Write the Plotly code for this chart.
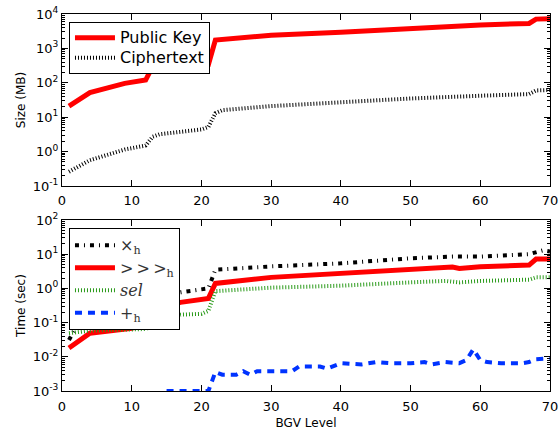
import plotly.graph_objects as go

# ---- data ----
pk_level = [1, 4, 9, 12, 13, 21, 22, 30, 40, 50, 60, 67, 68, 70]
pk_size = [21, 52, 96, 120, 300, 340, 1750, 2400, 2950, 3900, 4800, 5300, 7100, 7300]

ct_level = [1, 4, 9, 12, 13, 14, 20, 21, 22, 23, 30, 40, 50, 60, 67, 68, 70]
ct_size = [0.26, 0.56, 1.15, 1.5, 2.7, 3.2, 4.4, 5.2, 13, 16, 21, 28, 35, 42, 47, 60, 62]

mul_level = [1, 2, 3, 17, 20, 21, 22, 30, 40, 50, 56, 60, 67, 69, 70]
mul_time = [0.031, 0.068, 0.17, 0.77, 0.9, 1.0, 3.5, 4.4, 5.4, 7.6, 8.5, 8.5, 10, 13, 12]

rot_level = [1, 4, 10, 12, 13, 17, 21, 22, 30, 40, 50, 56, 57, 60, 67, 68, 70]
rot_time = [0.018, 0.049, 0.068, 0.09, 0.25, 0.39, 0.51, 1.4, 2.1, 2.7, 3.6, 4.2, 3.8, 4.3, 4.8, 7.2, 7.2]

sel_level = [1, 4, 10, 12, 17, 20, 21, 22, 30, 40, 50, 55, 57, 60, 67, 68, 70]
sel_time = [0.049, 0.058, 0.063, 0.065, 0.17, 0.18, 0.22, 0.83, 1.05, 1.2, 1.5, 1.65, 1.5, 1.65, 1.8, 2.1, 2.1]

add_level = [15, 21, 22, 23, 25, 26, 27, 28, 33, 34, 37, 38, 40, 42, 43, 45, 47, 50, 52, 53, 55, 57, 58, 59, 60, 61, 63, 66, 67, 68, 70]
add_time = [0.001, 0.001, 0.0036, 0.003, 0.003, 0.0038, 0.003, 0.0038, 0.0038, 0.0052, 0.0052, 0.0045, 0.0065, 0.006, 0.006, 0.007, 0.0065, 0.0065, 0.007, 0.006, 0.007, 0.0065, 0.008, 0.0165, 0.008, 0.007, 0.0065, 0.0065, 0.007, 0.0085, 0.009]

x_ticks = [0, 10, 20, 30, 40, 50, 60, 70]
size_exps = [-1, 0, 1, 2, 3, 4]
time_exps = [-3, -2, -1, 0, 1, 2]

FONT = "DejaVu Sans"
MATH = "DejaVu Serif"


def log_ticks(exps):
    vals = [10.0 ** e for e in exps]
    text = ["10<sup>%d</sup>" % e for e in exps]
    minor = [m * 10.0 ** e for e in exps[:-1] for m in range(2, 10)]
    return vals, text, minor


def big(s):
    return '<span style="font-size:16px">' + s + '</span>'


s_vals, s_text, s_minor = log_ticks(size_exps)
t_vals, t_text, t_minor = log_ticks(time_exps)

fig = go.Figure()
fig.add_trace(go.Scatter(x=pk_level, y=pk_size, mode="lines", name=big("Public Key"),
                         line=dict(color="#ff0000", width=5), xaxis="x", yaxis="y", legend="legend"))
fig.add_trace(go.Scatter(x=ct_level, y=ct_size, mode="lines", name=big("Ciphertext"),
                         line=dict(color="black", width=4, dash="1px,2px"), xaxis="x", yaxis="y", legend="legend"))

fig.add_trace(go.Scatter(x=mul_level, y=mul_time, mode="lines", name=big("×<sub>h</sub>"),
                         line=dict(color="black", width=4, dash="4px,5px,1px,5px"), xaxis="x2", yaxis="y2", legend="legend2"))
fig.add_trace(go.Scatter(x=rot_level, y=rot_time, mode="lines", name=big("&gt;&#8201;&gt;&#8201;&gt;<sub>h</sub>"),
                         line=dict(color="#ff0000", width=5), xaxis="x2", yaxis="y2", legend="legend2"))
fig.add_trace(go.Scatter(x=sel_level, y=sel_time, mode="lines", name=big("<i>sel</i>"),
                         line=dict(color="#2a9a1a", width=4, dash="1px,2px"), xaxis="x2", yaxis="y2", legend="legend2"))
fig.add_trace(go.Scatter(x=add_level, y=add_time, mode="lines", name=big("+<sub>h</sub>"),
                         line=dict(color="#0033ff", width=4, dash="7px,6px"), xaxis="x2", yaxis="y2", legend="legend2"))

axis_common = dict(showline=True, linecolor="black", linewidth=1, mirror="ticks", automargin=False,
                   ticks="inside", ticklen=6, tickcolor="black", showgrid=False, zeroline=False,
                   ticklabeloverflow="allow",
                   tickfont=dict(family=FONT, size=13, color="black"))

fig.update_layout(
    width=560, height=430,
    margin=dict(l=62, r=10, t=14, b=39),
    paper_bgcolor="white", plot_bgcolor="white",
    showlegend=True,
    xaxis=dict(domain=[0, 1], range=[0, 70], tickvals=x_ticks, anchor="y", ticklabelstandoff=2, **axis_common),
    yaxis=dict(domain=[0.5438, 1], type="log", range=[-1, 4], tickvals=s_vals, ticktext=s_text,
               title=dict(text="Size (MB)", font=dict(family=FONT, size=12, color="black"), standoff=4),
               minor=dict(ticks="inside", ticklen=3, tickcolor="black", showgrid=False, tickvals=s_minor),
               anchor="x", **axis_common),
    xaxis2=dict(domain=[0, 1], range=[0, 70], tickvals=x_ticks, anchor="y2", ticklabelstandoff=3,
                title=dict(text="BGV Level", font=dict(family=FONT, size=12, color="black"), standoff=6),
                **axis_common),
    yaxis2=dict(domain=[0, 0.4536], type="log", range=[-3, 2], tickvals=t_vals, ticktext=t_text,
                title=dict(text="Time (sec)", font=dict(family=FONT, size=12, color="black"), standoff=4),
                minor=dict(ticks="inside", ticklen=3, tickcolor="black", showgrid=False, tickvals=t_minor),
                anchor="x2", **axis_common),
    legend=dict(x=0.0143, y=0.979, xanchor="left", yanchor="top", bgcolor="white",
                bordercolor="black", borderwidth=1, font=dict(family=FONT, size=13, color="black"),
                tracegroupgap=0, itemwidth=40),
    legend2=dict(x=0.0143, y=0.4324, xanchor="left", yanchor="top", bgcolor="white",
                 bordercolor="black", borderwidth=1, font=dict(family=MATH, size=15, color="#333333"),
                 tracegroupgap=0, itemwidth=40),
)

fig.write_html("out.html", config={"displayModeBar": False},
               post_script="document.body.style.margin='0px';document.body.style.overflow='hidden';")
